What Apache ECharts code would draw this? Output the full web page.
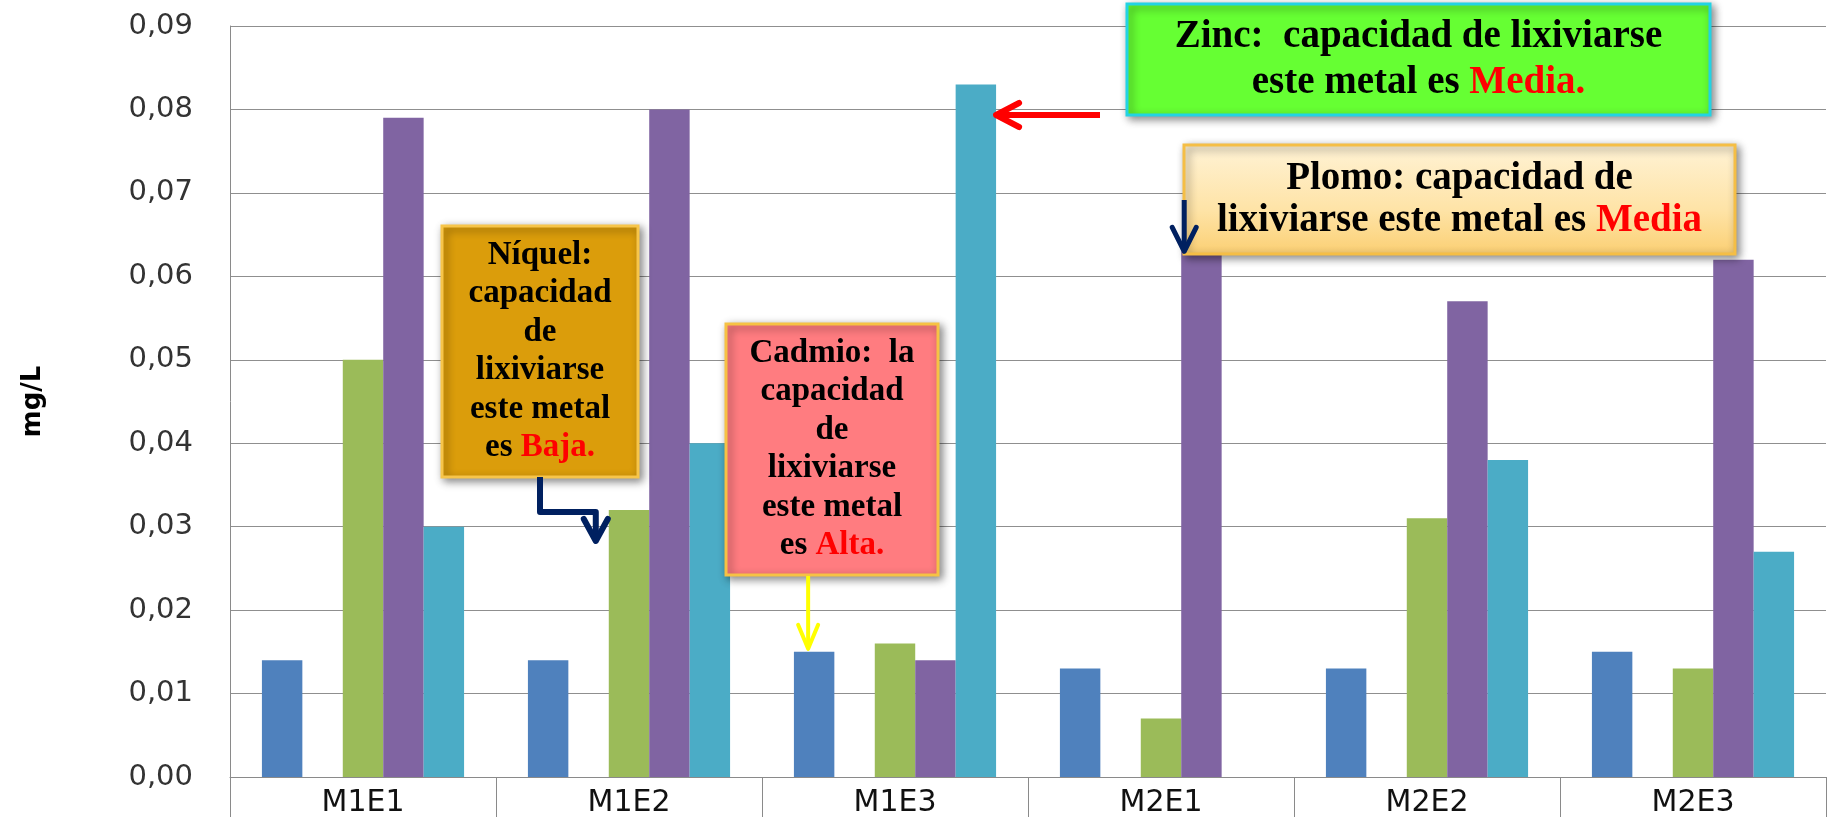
<!DOCTYPE html>
<html>
<head>
<meta charset="utf-8">
<script src="https://cdn.jsdelivr.net/npm/echarts@6/dist/echarts.min.js"></script>
<style>
html,body{margin:0;padding:0;background:#fff;}
#chart{width:1829px;height:818px;}
</style>
</head>
<body>
<div id="chart"></div>
<script>
// ---- data ----
const categories = ['M1E1', 'M1E2', 'M1E3', 'M2E1', 'M2E2', 'M2E3'];
const cadmio = [0.014, 0.014, 0.015, 0.013, 0.013, 0.015];
const cromo  = [0, 0, 0, 0, 0, 0];
const niquel = [0.050, 0.032, 0.016, 0.007, 0.031, 0.013];
const plomo  = [0.079, 0.080, 0.014, 0.063, 0.057, 0.062];
const zinc   = [0.030, 0.040, 0.083, 0, 0.038, 0.027];
const yTickLabels = ['0,00', '0,01', '0,02', '0,03', '0,04', '0,05', '0,06', '0,07', '0,08', '0,09'];
const yName = 'mg/L';
const seriesNames = ['Cadmio', 'Cromo', 'Níquel', 'Plomo', 'Zinc'];
const seriesData = [cadmio, cromo, niquel, plomo, zinc];
const colors = ['#4F81BD', '#C0504D', '#9BBB59', '#8064A2', '#4BACC6'];

const chart = echarts.init(document.getElementById('chart'), null, {renderer: 'canvas'});

const option = {
  backgroundColor: '#ffffff',
  animation: false,
  grid: {left: 230, right: 3, top: 26, bottom: 39, containLabel: false},
  xAxis: {
    type: 'category',
    data: categories,
    axisLine: {show: true, lineStyle: {color: '#8a8a8a', width: 1}},
    axisTick: {show: true, length: 40, interval: 0, alignWithLabel: false, lineStyle: {color: '#8a8a8a', width: 1}},
    axisLabel: {margin: 11, fontSize: 30, fontFamily: 'DejaVu Sans', color: '#111', interval: 0}
  },
  yAxis: {
    type: 'value',
    min: 0, max: 0.09, interval: 0.01,
    axisLine: {show: true, lineStyle: {color: '#8a8a8a', width: 1}},
    axisTick: {show: false},
    splitLine: {show: true, lineStyle: {color: '#8f8f8f', width: 1}},
    axisLabel: {
      margin: 37, fontSize: 29, fontFamily: 'DejaVu Sans', color: '#333',
      formatter: function (v) { return yTickLabels[Math.round(v * 100)]; }
    }
  },
  series: seriesData.map(function (d, i) {
    return {
      name: seriesNames[i],
      type: 'bar',
      data: d,
      barGap: '0%',
      barCategoryGap: '24%',
      itemStyle: {color: colors[i]}
    };
  })
};
chart.setOption(option);

// ---- annotations (boxes and arrows pointing at bars) ----
function barRect(s, i) {
  try {
    const lay = chart.getModel().getSeriesByIndex(s).getData().getItemLayout(i);
    const left = Math.min(lay.x, lay.x + lay.width);
    const top = Math.min(lay.y, lay.y + lay.height);
    return {left: left, right: left + Math.abs(lay.width), top: top, cx: left + Math.abs(lay.width) / 2};
  } catch (e) {
    const p = chart.convertToPixel({xAxisIndex: 0, yAxisIndex: 0}, [i, seriesData[s][i]]);
    const band = 1596 / categories.length;
    const bw = band * 0.76 / 5;
    const left = p[0] - band * 0.38 + s * bw;
    return {left: left, right: left + bw, top: p[1], cx: left + bw / 2};
  }
}

const SERIF = '"Liberation Serif", "DejaVu Serif", serif';
const shadow = {shadowBlur: 8, shadowColor: 'rgba(0,0,0,0.45)', shadowOffsetX: 3, shadowOffsetY: 3};

function box(x, y, w, h, fill, stroke, text, fontSize, lineHeight) {
  return [
    {type: 'rect', shape: {x: x, y: y, width: w, height: h},
     style: Object.assign({fill: fill, stroke: stroke, lineWidth: 3}, shadow), z: 100},
    {type: 'text', x: x + w / 2, y: y + h / 2, z: 101,
     style: {text: text, align: 'center', verticalAlign: 'middle',
             fontSize: fontSize, fontWeight: 'bold', fontFamily: SERIF, lineHeight: lineHeight, fill: '#000',
             rich: {r: {fill: '#FF0000', fontSize: fontSize, fontWeight: 'bold', fontFamily: SERIF, lineHeight: lineHeight}}}}
  ];
}

function arrowHead(tx, ty, dx, dy, len, spread, color, lw) {
  const bx = tx - dx * len, by = ty - dy * len;
  const px = -dy, py = dx;
  return {type: 'polyline', z: 102,
    shape: {points: [[bx + px * spread, by + py * spread], [tx, ty], [bx - px * spread, by - py * spread]]},
    style: {stroke: color, lineWidth: lw, fill: 'none', lineCap: 'round', lineJoin: 'round'}};
}

const g = [];
// y-axis title
const gridRect = chart.getModel().getComponent('grid', 0).coordinateSystem.getRect();
g.push({type: 'text', x: 33, y: gridRect.y + gridRect.height / 2, rotation: Math.PI / 2, z: 50,
  style: {text: yName, align: 'center', verticalAlign: 'middle', fontSize: 26, fontWeight: 'bold',
          fontFamily: 'DejaVu Sans', fill: '#000'}});
// Zinc box
g.push.apply(g, box(1127, 4, 583, 111, '#66FF33',
  '#22D3E3', 'Zinc:  capacidad de lixiviarse\neste metal es {r|Media.}', 39, 46));
// Plomo box
g.push.apply(g, box(1184, 145, 551, 109,
  {type: 'linear', x: 0, y: 0, x2: 0, y2: 1, colorStops: [{offset: 0, color: '#FFF3D6'}, {offset: 0.6, color: '#FEE3A6'}, {offset: 1, color: '#FBCF72'}]},
  '#F5BE45', 'Plomo: capacidad de\nlixiviarse este metal es {r|Media}', 39, 42));
// Níquel box
g.push.apply(g, box(442, 226, 196, 251, '#DB9D0B', '#F7C54A',
  'Níquel:\ncapacidad\nde\nlixiviarse\neste metal\nes {r|Baja.}', 33, 38.5));
// Cadmio box
g.push.apply(g, box(726, 324, 212, 251, '#FF7C80', '#F6C244',
  'Cadmio:  la\ncapacidad\nde\nlixiviarse\neste metal\nes {r|Alta.}', 33, 38.5));

// Zinc arrow (red) -> teal bar of M1E3
const zb = barRect(4, 2);
g.push({type: 'polyline', z: 102, shape: {points: [[1100, 115], [zb.right + 3, 115]]},
  style: {stroke: '#FF0000', lineWidth: 6, lineCap: 'butt'}});
g.push(arrowHead(zb.right, 115, -1, 0, 23, 12, '#FF0000', 6));

// Plomo arrow (navy) -> purple bar of M2E1
const pb = barRect(3, 3);
g.push({type: 'polyline', z: 102, shape: {points: [[pb.left + 3, 200], [pb.left + 3, pb.top - 2]]},
  style: {stroke: '#002060', lineWidth: 5}});
g.push(arrowHead(pb.left + 3, pb.top, 0, 1, 24, 12, '#002060', 5));

// Níquel elbow arrow (navy) -> green bar of M1E2
const nb = barRect(2, 1);
const nx = nb.left - 13, ny = nb.top + 31;
g.push({type: 'polyline', z: 102, shape: {points: [[540, 477], [540, 512], [nx, 512], [nx, ny - 3]]},
  style: {stroke: '#002060', lineWidth: 6, lineJoin: 'round', fill: 'none'}});
g.push(arrowHead(nx, ny, 0, 1, 22, 12, '#002060', 6));

// Cadmio arrow (yellow) -> blue bar of M1E3
const cb = barRect(0, 2);
const cx = cb.cx - 6, cy = cb.top - 3;
g.push({type: 'polyline', z: 102, shape: {points: [[cx, 576], [cx, cy - 2]]},
  style: {stroke: '#FFFF00', lineWidth: 4}});
g.push(arrowHead(cx, cy, 0, 1, 24, 10, '#FFFF00', 4));

chart.setOption({graphic: {elements: g}});
</script>
</body>
</html>
